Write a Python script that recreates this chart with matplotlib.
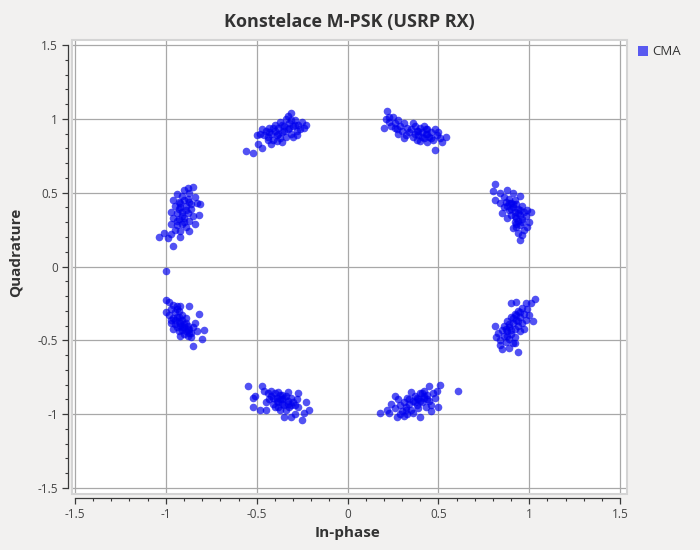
import matplotlib
matplotlib.use("Agg")
import matplotlib.pyplot as plt
from matplotlib.ticker import MultipleLocator, FixedLocator
from matplotlib.patches import Rectangle
from matplotlib.lines import Line2D

plt.rcParams['font.family'] = ['Open Sans', 'DejaVu Sans']

title = "Konstelace M-PSK (USRP RX)"
x_label = "In-phase"
y_label = "Quadrature"
series_name = "CMA"
tick_values = [-1.5, -1, -0.5, 0, 0.5, 1, 1.5]
tick_labels = ["-1.5", "-1", "-0.5", "0", "0.5", "1", "1.5"]

cluster_a = [(-0.56,0.78),(-0.52,0.77),(-0.47,0.80),(-0.49,0.83),(-0.42,0.83),(-0.31,1.04),
(-0.50,0.89),(-0.48,0.90),(-0.46,0.89),(-0.45,0.92),(-0.44,0.88),(-0.43,0.94),(-0.42,0.90),(-0.41,0.86),
(-0.40,0.92),(-0.40,0.96),(-0.39,0.89),(-0.38,0.94),(-0.37,0.87),(-0.37,0.98),(-0.36,0.91),(-0.35,0.95),
(-0.34,0.88),(-0.34,1.00),(-0.33,0.93),(-0.32,0.97),(-0.31,0.90),(-0.30,0.95),(-0.29,0.99),(-0.28,0.92),
(-0.27,0.96),(-0.26,0.93),(-0.25,0.98),(-0.24,0.94),(-0.23,0.96),(-0.39,0.85),(-0.36,0.84),(-0.44,0.86),
(-0.30,0.88),(-0.33,1.02),(-0.47,0.93),(-0.28,0.89),(-0.38,0.90),(-0.35,0.92),(-0.32,0.94),(-0.29,0.96),
(-0.41,0.94),(-0.36,0.96),(-0.43,0.91),(-0.31,0.99)]

cluster_b = [(0.22,1.05),(0.21,1.00),(0.23,0.98),(0.20,0.94),(0.24,0.95),(0.25,1.01),(0.26,0.97),(0.27,0.93),
(0.28,0.99),(0.29,0.95),(0.30,0.92),(0.31,0.97),(0.32,0.89),(0.33,0.94),(0.31,0.87),(0.34,0.91),(0.36,0.88),
(0.37,0.95),(0.38,0.92),(0.38,0.86),(0.39,0.89),(0.40,0.94),(0.41,0.91),(0.42,0.87),(0.42,0.95),(0.43,0.90),
(0.44,0.93),(0.45,0.88),(0.46,0.91),(0.47,0.86),(0.48,0.93),(0.49,0.89),(0.50,0.91),(0.51,0.87),(0.54,0.88),
(0.52,0.84),(0.48,0.79),(0.36,0.97),(0.40,0.85),(0.44,0.84),(0.35,0.93),(0.28,0.90),(0.39,0.92),(0.41,0.88),
(0.44,0.90),(0.46,0.87),(0.26,0.94),(0.23,1.01),(0.37,0.90),(0.43,0.93)]

cluster_c = [(0.81,0.56),(0.80,0.51),(0.84,0.50),(0.81,0.45),(0.88,0.52),(0.91,0.50),(0.95,0.48),(0.86,0.47),
(0.84,0.43),(0.87,0.44),(0.89,0.46),(0.86,0.40),(0.88,0.41),(0.90,0.43),(0.92,0.45),(0.89,0.38),(0.91,0.40),
(0.93,0.42),(0.90,0.35),(0.92,0.37),(0.94,0.39),(0.96,0.41),(0.93,0.33),(0.95,0.35),(0.97,0.37),(0.99,0.38),
(1.01,0.37),(0.92,0.30),(0.94,0.31),(0.96,0.32),(0.98,0.34),(1.00,0.30),(0.93,0.27),(0.95,0.28),(0.97,0.25),
(0.94,0.23),(0.96,0.21),(0.95,0.18),(0.88,0.33),(0.85,0.36),(0.99,0.27),(0.91,0.26),(0.90,0.39),(0.92,0.34),
(0.94,0.36),(0.91,0.42),(0.93,0.29),(0.96,0.30),(0.89,0.43),(0.95,0.38)]

cluster_d = [(1.03,-0.22),(1.01,-0.25),(0.98,-0.25),(0.93,-0.24),(0.90,-0.25),(1.02,-0.37),(0.81,-0.40),
(0.82,-0.48),(0.84,-0.53),(0.85,-0.56),(0.89,-0.55),(0.94,-0.58),(0.92,-0.52),(0.96,-0.28),(0.99,-0.29),
(0.94,-0.30),(0.97,-0.32),(1.00,-0.33),(0.92,-0.32),(0.95,-0.34),(0.98,-0.36),(0.90,-0.34),(0.93,-0.36),
(0.96,-0.38),(0.88,-0.37),(0.91,-0.38),(0.94,-0.40),(0.86,-0.40),(0.89,-0.41),(0.92,-0.42),(0.95,-0.44),
(0.85,-0.43),(0.88,-0.44),(0.90,-0.46),(0.86,-0.47),(0.89,-0.49),(0.92,-0.48),(0.84,-0.50),(0.87,-0.51),
(0.91,-0.52),(0.97,-0.42),(0.83,-0.45),(0.93,-0.33),(0.91,-0.35),(0.89,-0.39),(0.87,-0.42),(0.95,-0.31),
(0.90,-0.43),(0.88,-0.47),(0.94,-0.37)]

cluster_e = [(0.61,-0.84),(0.51,-0.80),(0.45,-0.81),(0.18,-0.99),(0.22,-0.97),(0.50,-0.95),(0.46,-0.98),
(0.40,-1.02),(0.31,-1.01),(0.27,-1.02),(0.24,-0.93),(0.26,-0.96),(0.28,-0.90),(0.29,-0.94),(0.30,-0.98),
(0.31,-0.92),(0.32,-0.95),(0.33,-0.89),(0.34,-0.93),(0.35,-0.97),(0.36,-0.91),(0.37,-0.88),(0.38,-0.94),
(0.39,-0.90),(0.40,-0.86),(0.41,-0.92),(0.42,-0.89),(0.43,-0.95),(0.44,-0.87),(0.45,-0.91),(0.47,-0.86),
(0.48,-0.89),(0.49,-0.84),(0.36,-0.99),(0.33,-1.00),(0.23,-0.99),(0.39,-0.96),(0.42,-0.84),(0.26,-0.88),
(0.29,-1.00),(0.46,-0.94),(0.35,-0.85),(0.38,-0.89),(0.40,-0.91),(0.42,-0.88),(0.37,-0.92),(0.34,-0.90),
(0.44,-0.90),(0.32,-0.97),(0.41,-0.86)]

cluster_f = [(-0.55,-0.81),(-0.47,-0.81),(-0.46,-0.84),(-0.51,-0.88),(-0.52,-0.89),(-0.52,-0.95),(-0.48,-0.97),
(-0.45,-0.97),(-0.35,-1.02),(-0.31,-1.02),(-0.29,-1.00),(-0.25,-1.04),(-0.24,-0.99),(-0.21,-0.97),(-0.23,-0.92),
(-0.27,-0.86),(-0.44,-0.86),(-0.43,-0.90),(-0.42,-0.88),(-0.41,-0.93),(-0.40,-0.86),(-0.39,-0.89),(-0.38,-0.92),
(-0.37,-0.87),(-0.36,-0.90),(-0.35,-0.94),(-0.34,-0.88),(-0.33,-0.91),(-0.32,-0.95),(-0.31,-0.89),(-0.30,-0.92),
(-0.29,-0.94),(-0.28,-0.90),(-0.40,-0.95),(-0.37,-0.97),(-0.34,-0.97),(-0.42,-0.84),(-0.38,-0.85),(-0.33,-0.85),
(-0.27,-0.95),(-0.45,-0.92),(-0.36,-0.93),(-0.39,-0.91),(-0.37,-0.90),(-0.35,-0.89),(-0.33,-0.93),(-0.41,-0.89),
(-0.31,-0.94),(-0.38,-0.95),(-0.36,-0.87)]

cluster_g = [(-1.00,-0.23),(-1.00,-0.31),(-0.98,-0.24),(-0.96,-0.26),(-0.94,-0.27),(-0.92,-0.27),(-0.87,-0.27),
(-0.97,-0.29),(-0.95,-0.31),(-0.93,-0.30),(-0.98,-0.33),(-0.96,-0.35),(-0.94,-0.34),(-0.91,-0.33),(-0.97,-0.38),
(-0.95,-0.39),(-0.93,-0.37),(-0.91,-0.36),(-0.89,-0.38),(-0.96,-0.42),(-0.94,-0.41),(-0.92,-0.40),(-0.90,-0.41),
(-0.88,-0.40),(-0.93,-0.44),(-0.91,-0.43),(-0.89,-0.44),(-0.87,-0.42),(-0.85,-0.41),(-0.90,-0.46),(-0.88,-0.47),
(-0.86,-0.45),(-0.83,-0.44),(-0.82,-0.32),(-0.79,-0.43),(-0.80,-0.49),(-0.85,-0.54),(-0.92,-0.47),(-0.97,-0.36),
(-0.89,-0.35),(-0.84,-0.38),(-0.86,-0.48),(-0.93,-0.34),(-0.92,-0.38),(-0.90,-0.39),(-0.88,-0.43),(-0.95,-0.36),
(-0.91,-0.41),(-0.87,-0.45),(-0.94,-0.29)]

cluster_h = [(-1.00,-0.03),(-0.96,0.14),(-1.04,0.20),(-1.01,0.23),(-0.99,0.19),(-0.92,0.20),(-0.87,0.24),
(-0.84,0.29),(-0.82,0.35),(-0.90,0.52),(-0.85,0.54),(-0.88,0.53),(-0.94,0.49),(-0.91,0.48),(-0.87,0.50),
(-0.84,0.47),(-0.96,0.45),(-0.93,0.44),(-0.90,0.45),(-0.87,0.44),(-0.83,0.43),(-0.95,0.41),(-0.92,0.40),
(-0.89,0.41),(-0.86,0.39),(-0.97,0.37),(-0.94,0.36),(-0.91,0.37),(-0.88,0.36),(-0.96,0.33),(-0.93,0.32),
(-0.90,0.33),(-0.87,0.31),(-0.97,0.29),(-0.94,0.28),(-0.91,0.29),(-0.95,0.25),(-0.92,0.24),(-0.97,0.22),
(-0.89,0.27),(-0.81,0.42),(-0.85,0.34),(-0.92,0.43),(-0.89,0.38),(-0.91,0.34),(-0.93,0.39),(-0.88,0.46),
(-0.94,0.31),(-0.90,0.30),(-0.86,0.42)]

clusters = [cluster_a, cluster_b, cluster_c, cluster_d, cluster_e, cluster_f, cluster_g, cluster_h]
xs = [p[0] for c in clusters for p in c]
ys = [p[1] for c in clusters for p in c]

bg = '#f2f1f0'
fig = plt.figure(figsize=(7, 5.5), dpi=100, facecolor=bg)
ax = fig.add_axes([72/700, 1-494/550, 555/700, 454/550])
ax.set_facecolor('white')

ax.scatter(xs, ys, s=30, color='#0000ee', alpha=0.68, linewidths=0, zorder=3)

ax.set_xlim(-1.5 - 3/181.67, 1.5 + 7/181.67)
ax.set_ylim(-1.5 - 6/147.7, 1.5 + 5/147.7)

ax.xaxis.set_major_locator(FixedLocator(tick_values))
ax.yaxis.set_major_locator(FixedLocator(tick_values))
ax.set_xticklabels(tick_labels)
ax.set_yticklabels(tick_labels)
ax.xaxis.set_minor_locator(MultipleLocator(0.1))
ax.yaxis.set_minor_locator(MultipleLocator(0.1))

ax.grid(True, which='major', color='#a8a8a8', linewidth=0.9, zorder=1)
ax.set_axisbelow(True)

for s in ['top', 'right']:
    ax.spines[s].set_visible(False)
for s in ['left', 'bottom']:
    ax.spines[s].set_position(('outward', 3))
    ax.spines[s].set_bounds(-1.5, 1.5)
    ax.spines[s].set_color('#3a3a3a')
    ax.spines[s].set_linewidth(0.9)

ax.tick_params(which='major', direction='out', length=4, width=0.9, color='#3a3a3a',
               labelsize=8.5, labelcolor='#444444', pad=3)
ax.tick_params(which='minor', direction='out', length=2.2, width=0.8, color='#3a3a3a')

border = Rectangle((0, 0), 1, 1, transform=ax.transAxes, fill=False,
                   edgecolor='#d4d4d4', linewidth=1.5, zorder=2, clip_on=False)
ax.add_patch(border)

fig.text(349/700, 1-22/550, title, ha='center', va='center', fontsize=13,
         fontweight='bold', color='#333333')
fig.text(348/700, 1-533/550, x_label, ha='center', va='center', fontsize=11,
         fontweight='bold', color='#333333')
fig.text(16/700, 1-252/550, y_label, ha='center', va='center', rotation=90,
         fontsize=11, fontweight='bold', color='#333333')

handle = Line2D([], [], linestyle='none', marker='s', markersize=6.5,
                markerfacecolor='#5a5af0', markeredgewidth=0, label=series_name)
leg = fig.legend(handles=[handle], loc='center left', bbox_to_anchor=(638/700, 1-52/550),
                 frameon=False, fontsize=9.5, handlelength=0.7, handletextpad=0.35, borderpad=0,
                 borderaxespad=0)
for t in leg.get_texts():
    t.set_color('#333333')

fig.savefig('out.png', dpi=100, facecolor=bg)
